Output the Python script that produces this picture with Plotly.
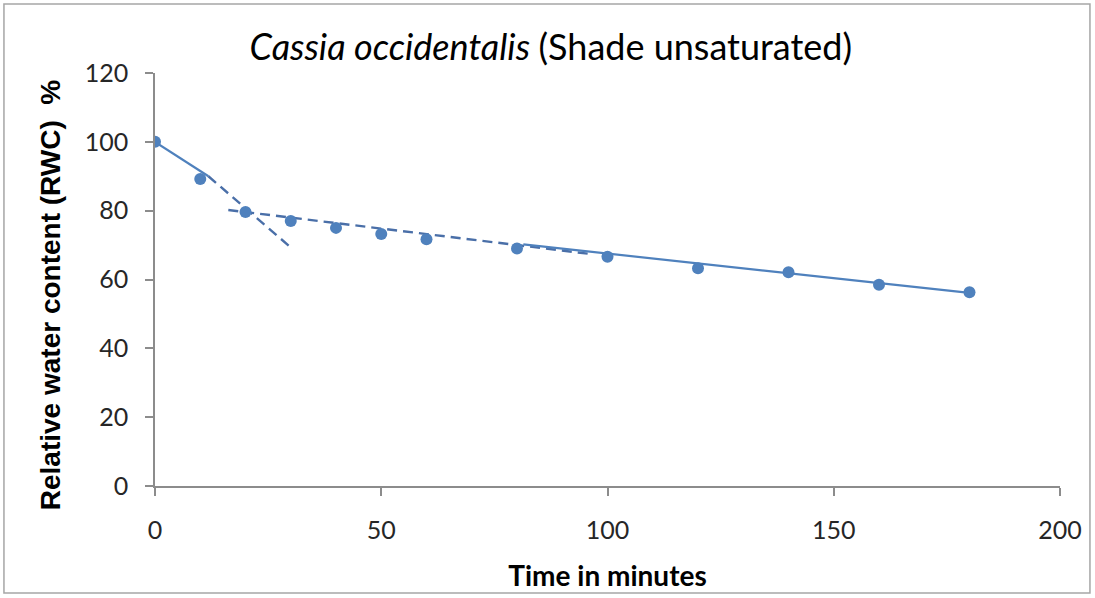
import plotly.graph_objects as go

# measured points
time_min = [0, 10, 20, 30, 40, 50, 60, 80, 100, 120, 140, 160, 180]
rwc = [100, 89.2, 79.6, 77.0, 75.0, 73.2, 71.7, 69.0, 66.6, 63.3, 62.1, 58.5, 56.3]

# fitted phase lines (end points)
fit1_solid_x = [0, 11.8]
fit1_solid_y = [100, 90.0]
fit1_dash_x = [11.8, 30.2]
fit1_dash_y = [90.0, 69.1]
fit2_x = [16.2, 96.9]
fit2_y = [80.2, 67.3]
fit3_x = [81.4, 180]
fit3_y = [70.2, 56.1]

x_ticks = [0, 50, 100, 150, 200]
y_ticks = [0, 20, 40, 60, 80, 100, 120]

BLUE = "#4F81BD"
DASH_BLUE = "#4A6FA8"
AXIS = "#8C8C8C"
FONT = "Lato, Open Sans, sans-serif"
DASH = "10px,6px"

fig = go.Figure()

fig.add_trace(go.Scatter(x=fit1_solid_x, y=fit1_solid_y, mode="lines",
                         line=dict(color=BLUE, width=2.2)))
fig.add_trace(go.Scatter(x=fit1_dash_x, y=fit1_dash_y, mode="lines",
                         line=dict(color=DASH_BLUE, width=2.4, dash=DASH)))
fig.add_trace(go.Scatter(x=fit2_x, y=fit2_y, mode="lines",
                         line=dict(color=DASH_BLUE, width=2.4, dash=DASH)))
fig.add_trace(go.Scatter(x=fit3_x, y=fit3_y, mode="lines",
                         line=dict(color=BLUE, width=2.2)))
fig.add_trace(go.Scatter(x=time_min, y=rwc, mode="markers",
                         marker=dict(color=BLUE, size=12)))

fig.update_layout(
    width=1095, height=598,
    paper_bgcolor="white", plot_bgcolor="white",
    showlegend=False,
    margin=dict(l=155, r=35, t=73, b=112),
    font=dict(family=FONT, size=25, color="#262626"),
    title=dict(
        text="<i>Cassia occidentalis </i>(Shade unsaturated)",
        x=0.503, xanchor="center", y=0.921, yanchor="middle",
        font=dict(family=FONT, size=36, color="black"),
    ),
    shapes=[dict(type="rect", xref="paper", yref="paper",
                 x0=-0.1669, x1=1.0331, y0=-0.259, y1=1.167,
                 line=dict(color="#A6A6A6", width=1.5))],
)

fig.update_xaxes(
    range=[0, 200], tickvals=x_ticks, showgrid=False, zeroline=False,
    showline=True, linecolor=AXIS, linewidth=1.5,
    ticks="outside", ticklen=8, tickcolor=AXIS, tickwidth=1.5,
    ticklabelstandoff=13,
    title=dict(text="<b>Time in minutes</b>", font=dict(family=FONT, size=28, color="black"),
               standoff=24),
)
fig.update_yaxes(
    range=[0, 120], tickvals=y_ticks, showgrid=False, zeroline=False,
    showline=True, linecolor=AXIS, linewidth=1.5,
    ticks="outside", ticklen=8, tickcolor=AXIS, tickwidth=1.5,
    ticklabelstandoff=12,
)

fig.add_annotation(
    text="<b>Relative water content (RWC)  %</b>",
    xref="paper", yref="paper", x=-0.116, y=0.462,
    textangle=-90, showarrow=False, xanchor="center", yanchor="middle",
    font=dict(family="Liberation Sans, Arial, sans-serif", size=28, color="black"),
)

# drop the default page margin so the figure sits at the window corner
fig.write_html("out.html", config={"displayModeBar": False},
               post_script="document.body.style.margin='0';")
